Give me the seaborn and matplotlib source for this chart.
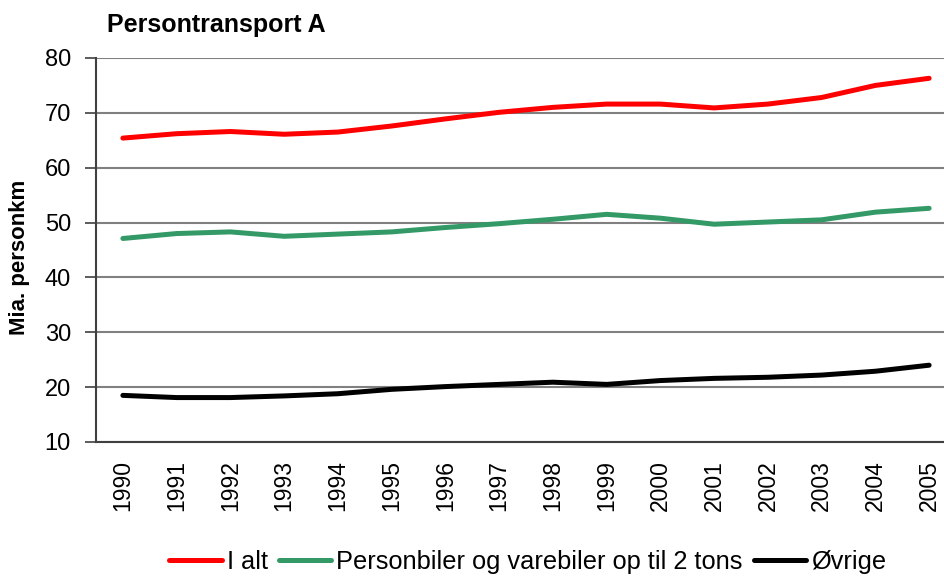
import matplotlib
matplotlib.use("Agg")
import matplotlib.pyplot as plt
import seaborn as sns
import pandas as pd
from matplotlib.lines import Line2D

years = list(range(1990, 2006))
i_alt = [65.4, 66.2, 66.6, 66.1, 66.5, 67.6, 68.9, 70.1, 71.0, 71.6, 71.6, 70.9, 71.6, 72.8, 75.0, 76.3]
personbiler = [47.1, 48.0, 48.3, 47.5, 47.9, 48.3, 49.1, 49.8, 50.6, 51.5, 50.8, 49.7, 50.1, 50.5, 51.9, 52.6]
ovrige = [18.5, 18.1, 18.1, 18.4, 18.8, 19.6, 20.1, 20.5, 20.9, 20.5, 21.2, 21.6, 21.8, 22.2, 22.9, 24.0]
series_names = ["I alt", "Personbiler og varebiler op til 2 tons", "Øvrige"]
colors = ["#FF0000", "#339966", "#000000"]
yticks = [10, 20, 30, 40, 50, 60, 70, 80]

df = pd.DataFrame({
    "year": years * 3,
    "value": i_alt + personbiler + ovrige,
    "series": [series_names[0]] * len(years) + [series_names[1]] * len(years) + [series_names[2]] * len(years),
})

sns.set_theme(style="white")
plt.rcParams["font.family"] = ["Liberation Sans", "DejaVu Sans"]
plt.rcParams["text.color"] = "black"
plt.rcParams["axes.labelcolor"] = "black"
plt.rcParams["xtick.color"] = "black"
plt.rcParams["ytick.color"] = "black"

fig = plt.figure(figsize=(9.45, 5.77), dpi=100)
ax = fig.add_axes([96 / 945, 1 - 442 / 577, (956 - 96) / 945, (442 - 58) / 577])

sns.lineplot(data=df, x="year", y="value", hue="series", hue_order=series_names,
             palette=dict(zip(series_names, colors)), linewidth=3.6, ax=ax,
             legend=False, solid_capstyle="round", solid_joinstyle="round")

ax.set_xlim(1989.5, 2005.5)
ax.set_ylim(10, 80)
ax.set_yticks(yticks)
ax.set_yticklabels([str(v) for v in yticks], fontsize=17)
ax.set_xticks(years)
ax.set_xticklabels([str(y) for y in years], rotation=90, fontsize=16.5)
ax.set_xticks([y + 0.5 for y in years[:-1]] + [years[0] - 0.5], minor=True)
ax.tick_params(axis="x", which="major", length=0, pad=13)
ax.tick_params(axis="x", which="minor", length=8, width=1.2, color="#404040", direction="out")
ax.tick_params(axis="y", which="major", length=8, width=1.2, color="#404040", direction="out", pad=10, left=True)
ax.yaxis.grid(True, color="#808080", linewidth=1.5)
ax.xaxis.grid(False)
ax.set_axisbelow(True)
for s in ["top", "right"]:
    ax.spines[s].set_visible(False)
for s in ["left", "bottom"]:
    ax.spines[s].set_color("#404040")
    ax.spines[s].set_linewidth(1.5)
ax.set_xlabel("")
ax.set_ylabel("Mia. personkm", fontsize=16, fontweight="bold", labelpad=8)
ax.yaxis.set_label_coords(20 / 945 - 96 / 945, 0.52, transform=fig.transFigure)
ax.yaxis.label.set_position((20 / 945, 1 - 257 / 577))
ax.yaxis.label.set_transform(fig.transFigure)
ax.yaxis.label.set_va("center")

fig.text(107 / 945, 1 - 25 / 577, "Persontransport A", fontsize=18, fontweight="bold",
         ha="left", va="center")

handles = [Line2D([], [], color=c, linewidth=3.6, solid_capstyle="round") for c in colors]
fig.legend(handles, series_names, loc="center", bbox_to_anchor=(528 / 945, 1 - 562 / 577),
           ncol=3, frameon=False, fontsize=18.3, handlelength=2.05, handletextpad=0.2,
           columnspacing=0.45, borderpad=0)

fig.savefig("out.png", dpi=100)
